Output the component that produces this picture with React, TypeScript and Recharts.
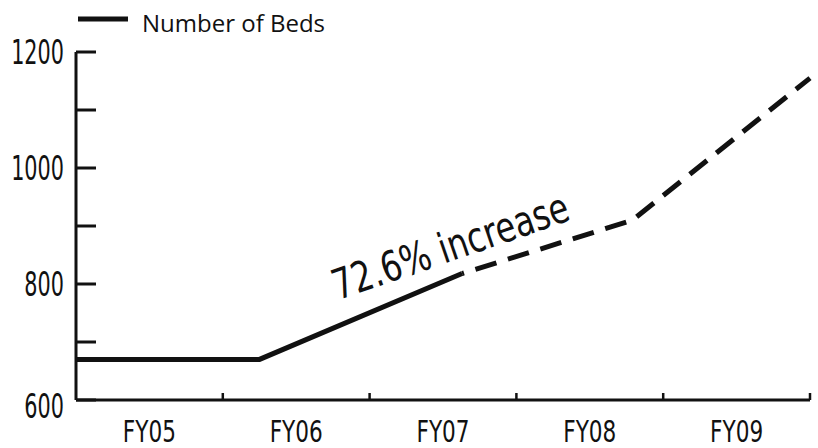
import { LineChart, Line, XAxis, YAxis, Legend, ReferenceDot } from "recharts";

// fiscal years shown on the x axis
const categories = ["FY05", "FY06", "FY07", "FY08", "FY09"];
// where each reading sits along the axis (0 = left edge, 5 = right edge)
const pointX = [0, 1.25, 2.63, 3.79, 5];
const beds = [670, 670, 818, 910, 1155];
const actualCount = 3; // first three readings drawn solid, rest projected (dashed)

const yTicks = [600, 700, 800, 900, 1000, 1100, 1200];
const yLabels = [600, 800, 1000, 1200];

const note = "72.6% increase";
const noteAt = { x: 1.785, y: 772 };

const data = pointX.map((x, i) => ({
  x,
  actual: i < actualCount ? beds[i] : null,
  projected: i >= actualCount - 1 ? beds[i] : null,
}));

const xTicks = categories.flatMap((_, i) => [i + 0.5, i + 1]);

const INK = "#111";
const NARROW = "'Liberation Sans Narrow', 'DejaVu Sans Condensed', 'Arial Narrow', sans-serif";

const XTick = (props: any) => {
  const { x, y, payload } = props;
  const v = payload.value;
  if (Number.isInteger(v)) {
    return <line x1={x} x2={x} y1={y} y2={y - 7} stroke={INK} strokeWidth={2.5} />;
  }
  return (
    <text
      transform={`translate(${x},${y + 42}) scale(0.8,1)`}
      textAnchor="middle"
      fontFamily={NARROW}
      fontSize={30}
      fill={INK}
    >
      {categories[Math.floor(v)]}
    </text>
  );
};

const YTick = (props: any) => {
  const { x, y, payload } = props;
  const v = payload.value;
  const dy = v === 600 ? 18 : 12;
  return (
    <g>
      <line x1={x} x2={x + 20} y1={y} y2={y} stroke={INK} strokeWidth={3} />
      {yLabels.includes(v) && (
        <text
          transform={`translate(${x - 12},${y + dy}) scale(0.7,1)`}
          textAnchor="end"
          fontFamily={NARROW}
          fontSize={33}
          fill={INK}
        >
          {v}
        </text>
      )}
    </g>
  );
};

const LegendBox = (props: any) => {
  const items = (props.payload || []).filter((p: any) => p.type !== "none");
  return (
    <svg width={420} height={44}>
      {items.map((p: any) => (
        <g key={p.value}>
          <line x1={78} x2={128} y1={19} y2={19} stroke={INK} strokeWidth={5} />
          <text x={142} y={32} fontFamily="'Open Sans', sans-serif" fontSize={24} fill={INK}>
            {p.value}
          </text>
        </g>
      ))}
    </svg>
  );
};

const App = () => {
  return (
    <div style={{ position: "absolute", left: 0, top: 0, background: "#fff" }}>
      <LineChart
        width={818}
        height={448}
        data={data}
        margin={{ top: 52, right: 8, left: 0, bottom: 0 }}
      >
        <XAxis
          dataKey="x"
          type="number"
          domain={[0, 5]}
          ticks={xTicks}
          interval={0}
          height={48}
          tickSize={0}
          tickMargin={0}
          tickLine={false}
          axisLine={{ stroke: INK, strokeWidth: 3 }}
          tick={<XTick />}
        />
        <YAxis
          type="number"
          domain={[600, 1200]}
          ticks={yTicks}
          interval={0}
          width={76}
          tickSize={0}
          tickMargin={0}
          tickLine={false}
          axisLine={{ stroke: INK, strokeWidth: 3 }}
          tick={<YTick />}
        />
        <Legend
          layout="horizontal"
          verticalAlign="middle"
          align="center"
          wrapperStyle={{ top: 0, left: 0, width: 420, height: 44 }}
          content={<LegendBox />}
        />
        <Line
          name="Number of Beds"
          dataKey="actual"
          stroke={INK}
          strokeWidth={5}
          dot={false}
          activeDot={false}
          connectNulls={false}
          isAnimationActive={false}
        />
        <Line
          name="Projected"
          dataKey="projected"
          legendType="none"
          stroke={INK}
          strokeWidth={5}
          strokeDasharray="22 12"
          strokeDashoffset={-14}
          dot={false}
          activeDot={false}
          isAnimationActive={false}
        />
        <ReferenceDot
          x={noteAt.x}
          y={noteAt.y}
          r={0}
          ifOverflow="visible"
          shape={(p: any) => (
            <text
              transform={`translate(${p.cx},${p.cy}) rotate(-19) scale(0.85,1)`}
              fontFamily={NARROW}
              fontSize={42}
              fill={INK}
            >
              {note}
            </text>
          )}
        />
      </LineChart>
    </div>
  );
};

export default App;
